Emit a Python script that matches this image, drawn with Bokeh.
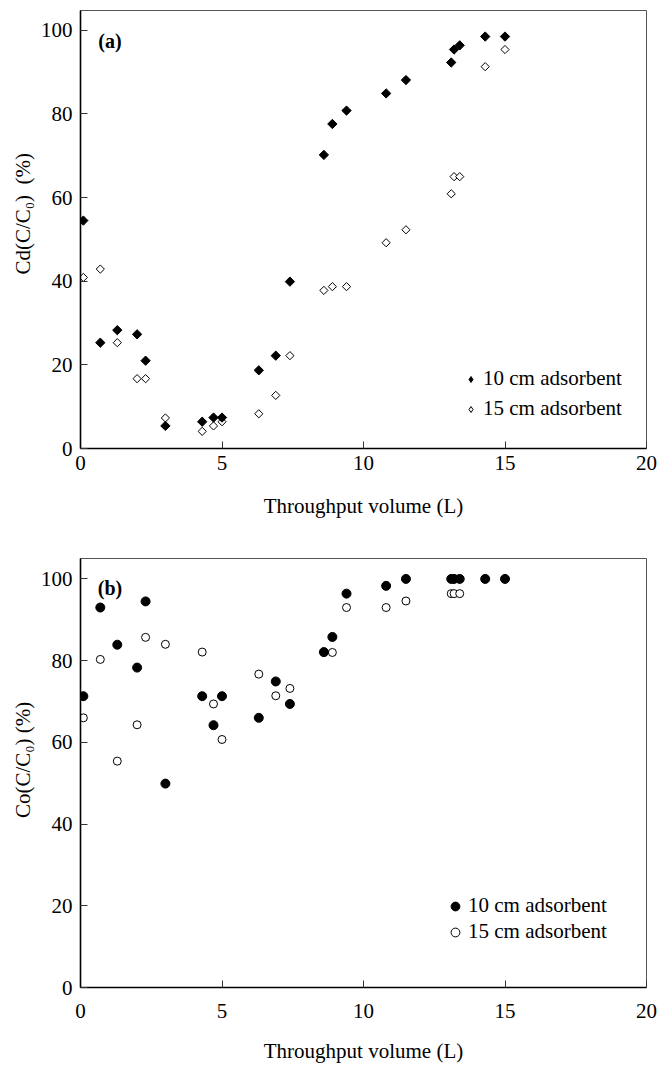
import numpy as np
from bokeh.plotting import figure
from bokeh.models import Range1d, FixedTicker, Legend, LegendItem, Label, ColumnDataSource
from bokeh.layouts import column
from bokeh.embed import file_html
from bokeh.resources import INLINE

# ---------------- data ----------------
volume = [0.1, 0.7, 1.3, 2.0, 2.3, 3.0, 4.3, 4.7, 5.0, 6.3, 6.9, 7.4,
          8.6, 8.9, 9.4, 10.8, 11.5, 13.1, 13.2, 13.4, 14.3, 15.0]
cd_10cm = [54.5, 25.3, 28.3, 27.3, 21.0, 5.4, 6.4, 7.4, 7.4, 18.7, 22.2, 39.9,
           70.2, 77.6, 80.8, 84.9, 88.1, 92.3, 95.4, 96.4, 98.5, 98.5]
cd_15cm = [40.9, 42.9, 25.3, 16.7, 16.7, 7.3, 4.1, 5.4, 6.4, 8.3, 12.7, 22.2,
           37.8, 38.7, 38.7, 49.2, 52.3, 60.9, 65.0, 65.0, 91.3, 95.4]
co_10cm = [71.3, 93.0, 83.9, 78.3, 94.5, 49.9, 71.3, 64.2, 71.3, 66.0, 74.9, 69.4,
           82.1, 85.8, 96.4, 98.3, 100, 100, 100, 100, 100, 100]
co_15cm = [66.0, 80.3, 55.4, 64.3, 85.7, 84.0, 82.1, 69.4, 60.7, 76.7, 71.4, 73.2,
           82.0, 82.0, 93.0, 93.0, 94.6, 96.4, 96.4, 96.4, 100, 100]
x_ticks = [0, 5, 10, 15, 20]
y_ticks = [0, 20, 40, 60, 80, 100]
series_labels = ["10 cm adsorbent", "15 cm adsorbent"]
x_title = "Throughput volume (L)"
NB = "\u00a0"
y_title_a = NB * 6 + "Cd(C/C\u2080)" + NB + " (%)"
y_title_b = NB * 5 + "Co(C/C\u2080) (%)"

FONT = "Liberation Serif"
FS = "21px"


def make_fig(height, top, bottom, ymax, ytitle, tick_standoff, label_standoff):
    p = figure(width=658, height=height, output_backend="svg", toolbar_location=None,
               x_range=Range1d(0, 20), y_range=Range1d(0, ymax),
               min_border_left=80, min_border_right=12,
               min_border_top=top, min_border_bottom=bottom)
    p.grid.visible = False
    p.outline_line_color = "#555555"
    p.outline_line_width = 1
    p.background_fill_color = "white"
    p.border_fill_color = "white"
    for ax in (p.xaxis[0], p.yaxis[0]):
        ax.axis_line_color = "black"
        ax.axis_line_width = 1.6
        ax.major_tick_in = 7
        ax.major_tick_out = 0
        ax.major_tick_line_color = "#333333"
        ax.minor_tick_line_color = None
        ax.major_label_text_font = FONT
        ax.major_label_text_font_size = FS
        ax.major_label_text_color = "black"
        ax.axis_label_text_font = FONT
        ax.axis_label_text_font_size = FS
        ax.axis_label_text_font_style = "normal"
        ax.axis_label_text_color = "black"
    p.xaxis.ticker = FixedTicker(ticks=x_ticks)
    p.yaxis.ticker = FixedTicker(ticks=y_ticks)
    p.xaxis.axis_label = x_title
    p.yaxis.axis_label = ytitle
    p.xaxis.major_label_standoff = tick_standoff
    p.xaxis.axis_label_standoff = label_standoff
    p.yaxis.major_label_standoff = 8
    p.yaxis.axis_label_standoff = 3
    return p


def legend(p, items, loc, gw, spacing, standoff):
    leg = Legend(items=items, location=loc, glyph_width=gw, glyph_height=24,
                 spacing=spacing, label_standoff=standoff, padding=0, margin=0,
                 border_line_alpha=0, background_fill_alpha=0,
                 label_text_font=FONT, label_text_font_size=FS,
                 label_text_color="black")
    p.add_layout(leg)


# ---------------- panel (a) ----------------
pa = make_fig(520, 10, 67, 104.73, y_title_a, 7, 21)
src_a = ColumnDataSource(dict(x=volume, y10=cd_10cm, y15=cd_15cm))
pa.scatter("x", "y15", source=src_a, marker="square", angle=np.pi / 4, size=5.8,
           fill_color="white", line_color="black", line_width=1)
pa.scatter("x", "y10", source=src_a, marker="square", angle=np.pi / 4, size=6.6,
           fill_color="black", line_color="black", line_width=1)
# legend key glyphs (they carry no visible data point of their own)
key_src = ColumnDataSource(dict(x=[np.nan], y=[np.nan]))
la10 = pa.scatter("x", "y", source=key_src, marker="diamond",
                  fill_color="black", line_color="black")
la15 = pa.scatter("x", "y", source=key_src, marker="diamond",
                  fill_color="white", line_color="black")
legend(pa, [LegendItem(label=series_labels[0], renderers=[la10]),
            LegendItem(label=series_labels[1], renderers=[la15])],
       (383, 27), 15, 5, 5)
pa.add_layout(Label(x=0.63, y=97.4, text="(a)", text_font=FONT, text_font_size="20px",
                    text_font_style="bold", text_baseline="alphabetic", text_color="black"))

# ---------------- panel (b) ----------------
pb = make_fig(545, 38, 76, 105.0, y_title_b, 16, 18)
src_b = ColumnDataSource(dict(x=volume, y10=co_10cm, y15=co_15cm))
r15b = pb.scatter("x", "y15", source=src_b, marker="circle", size=8,
                  fill_color="white", line_color="black", line_width=1)
r10b = pb.scatter("x", "y10", source=src_b, marker="circle", size=9,
                  fill_color="black", line_color="black", line_width=1)
legend(pb, [LegendItem(label=series_labels[0], renderers=[r10b]),
            LegendItem(label=series_labels[1], renderers=[r15b])],
       (364, 43), 22, 1, 2)
pb.add_layout(Label(x=0.61, y=97.8, text="(b)", text_font=FONT, text_font_size="20px",
                    text_font_style="bold", text_baseline="alphabetic", text_color="black"))

layout = column(pa, pb, spacing=0)
open("out.html", "w").write(file_html(layout, INLINE))
